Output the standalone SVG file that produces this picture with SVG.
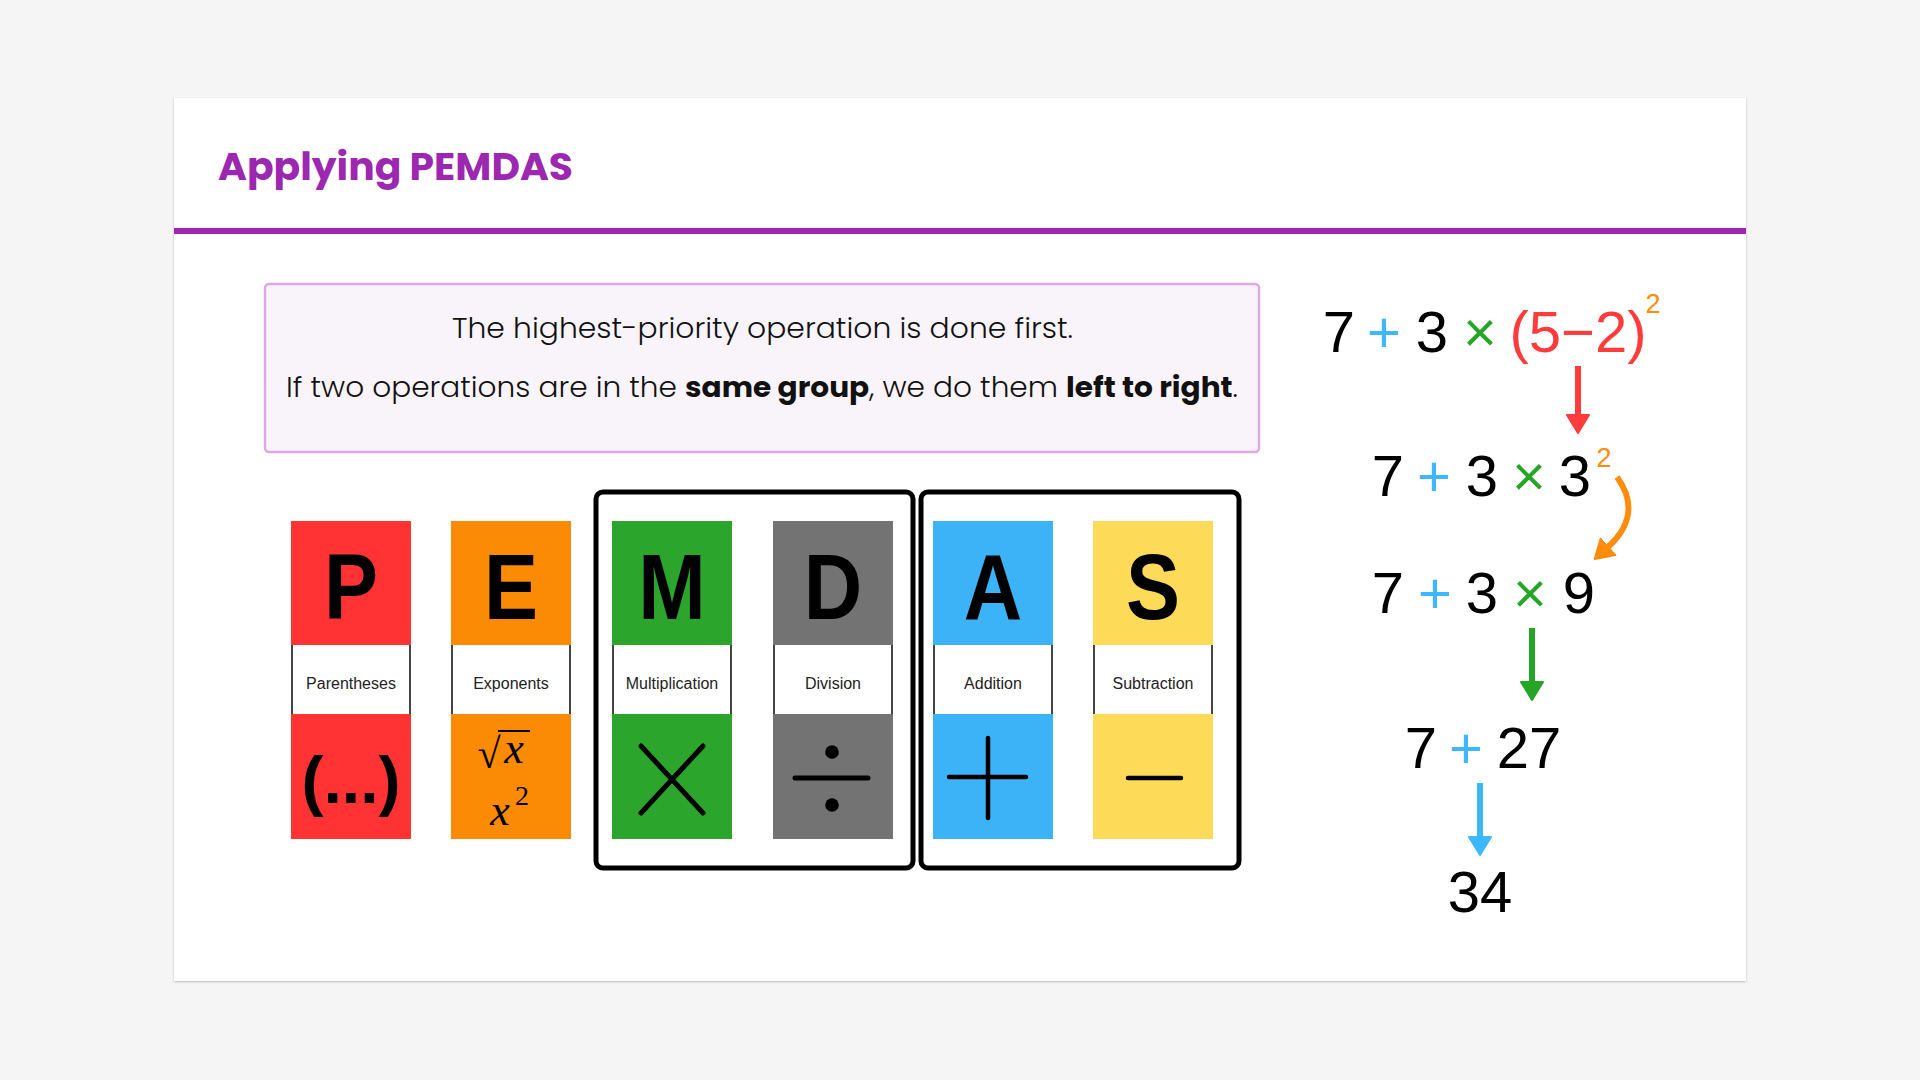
<svg xmlns="http://www.w3.org/2000/svg" width="1920" height="1080" viewBox="0 0 1920 1080">
  <defs>
    <filter id="shadow" x="-5%" y="-5%" width="110%" height="110%">
      <feDropShadow dx="0" dy="1" stdDeviation="1.2" flood-color="#000" flood-opacity="0.25"/>
    </filter>
    <marker id="hRed" viewBox="0 0 20 26" markerUnits="userSpaceOnUse" markerWidth="20" markerHeight="26" refX="1" refY="13" orient="auto">
      <path d="M1,2 L19,13 L1,24 Z" fill="#FF3B3B" stroke="#FF3B3B" stroke-width="2" stroke-linejoin="round"/>
    </marker>
    <marker id="hGreen" viewBox="0 0 20 26" markerUnits="userSpaceOnUse" markerWidth="20" markerHeight="26" refX="1" refY="13" orient="auto">
      <path d="M1,2 L19,13 L1,24 Z" fill="#26A626" stroke="#26A626" stroke-width="2" stroke-linejoin="round"/>
    </marker>
    <marker id="hBlue" viewBox="0 0 20 26" markerUnits="userSpaceOnUse" markerWidth="20" markerHeight="26" refX="1" refY="13" orient="auto">
      <path d="M1,2 L19,13 L1,24 Z" fill="#3DB8FF" stroke="#3DB8FF" stroke-width="2" stroke-linejoin="round"/>
    </marker>
    <marker id="hOrange" viewBox="0 0 20 26" markerUnits="userSpaceOnUse" markerWidth="20" markerHeight="26" refX="1" refY="13" orient="auto">
      <path d="M1,2 L19,13 L1,24 Z" fill="#FF8C0A" stroke="#FF8C0A" stroke-width="2" stroke-linejoin="round"/>
    </marker>
  </defs>
  <style>
    .title { font-family: Poppins, "Liberation Sans", Arial, sans-serif; font-weight: 700; font-size: 38px; fill: #9C27B0; }
    .rule { font-family: Poppins, Lato, "Open Sans", "Liberation Sans", sans-serif; font-weight: 300; font-size: 28px; fill: #111; }
    .b { font-weight: 700; }
    .big { font-family: "Liberation Sans", Arial, sans-serif; font-weight: 700; font-size: 92px; fill: #000; text-anchor: middle; }
    .lbl { font-family: "Liberation Sans", Arial, sans-serif; font-size: 16px; fill: #222; text-anchor: middle; }
    .band { fill: #fff; stroke: none; }
    .bandedge { stroke: #444; stroke-width: 2; }
    .grp { fill: none; stroke: #000; stroke-width: 5; }
    .sym { stroke: #000; stroke-linecap: round; fill: none; }
    .math { font-family: "Liberation Serif", "Times New Roman", serif; font-style: italic; fill: #000; text-anchor: middle; }
    .eq { font-family: "Liberation Sans", Arial, sans-serif; font-size: 58px; fill: #000; text-anchor: middle; }
    .sup { font-family: "Liberation Sans", Arial, sans-serif; font-size: 27px; fill: #FF8C0A; text-anchor: middle; }
    .blue { fill: #3DB8FF; }
    .green { fill: #26A626; }
    .red { fill: #FF3B3B; }
    .arrow { fill: none; stroke-width: 6; }
  </style>

  <rect width="1920" height="1080" fill="#F5F5F5"/>
  <rect x="174" y="98" width="1572" height="883" fill="#FFFFFF" filter="url(#shadow)"/>

  <g id="header">
    <text class="title" x="218" y="180" textLength="355" lengthAdjust="spacingAndGlyphs">Applying PEMDAS</text>
    <rect x="174" y="228" width="1572" height="6" fill="#9C27B0"/>
  </g>

  <g id="rule-box">
    <rect x="265" y="284" width="994" height="168" rx="4" fill="#F9F4FA" stroke="#DDA8E3" stroke-width="2.5"/>
    <text class="rule" x="452" y="338" textLength="621" lengthAdjust="spacingAndGlyphs">The highest-priority operation is done first.</text>
    <text class="rule" x="286" y="397" textLength="952" lengthAdjust="spacingAndGlyphs">If two operations are in the <tspan class="b">same group</tspan>, we do them <tspan class="b">left to right</tspan>.</text>
  </g>

  <g id="group-md">
    <rect class="grp" x="596" y="492" width="317" height="376" rx="7"/>
  </g>
  <g id="group-as">
    <rect class="grp" x="921" y="492" width="318" height="376" rx="7"/>
  </g>

  <g id="tile-P">
    <rect x="291" y="521" width="120" height="318" fill="#FF3333"/>
    <rect class="band" x="291" y="645" width="120" height="69"/>
    <line class="bandedge" x1="292" y1="645" x2="292" y2="714"/>
    <line class="bandedge" x1="410" y1="645" x2="410" y2="714"/>
    <text class="big" transform="translate(351 619) scale(0.88 1)">P</text>
    <text class="lbl" x="351" y="689">Parentheses</text>
    <text x="351" y="803" font-family="Liberation Sans, Arial, sans-serif" font-weight="700" font-size="66" text-anchor="middle" fill="#000">(...)</text>
  </g>

  <g id="tile-E">
    <rect x="451" y="521" width="120" height="318" fill="#FB8A04"/>
    <rect class="band" x="451" y="645" width="120" height="69"/>
    <line class="bandedge" x1="452" y1="645" x2="452" y2="714"/>
    <line class="bandedge" x1="570" y1="645" x2="570" y2="714"/>
    <text class="big" transform="translate(511 619) scale(0.88 1)">E</text>
    <text class="lbl" x="511" y="689">Exponents</text>
    <text x="489" y="768" font-family="Liberation Serif, Times New Roman, serif" font-size="42" text-anchor="middle" fill="#000">√</text>
    <line x1="498" y1="731" x2="530" y2="731" stroke="#000" stroke-width="2"/>
    <text class="math" x="514" y="763" font-size="44">x</text>
    <text class="math" x="500" y="825" font-size="44">x</text>
    <text x="522" y="805" font-family="Liberation Serif, Times New Roman, serif" font-size="28" text-anchor="middle" fill="#000">2</text>
  </g>

  <g id="tile-M">
    <rect x="612" y="521" width="120" height="318" fill="#2CA52C"/>
    <rect class="band" x="612" y="645" width="120" height="69"/>
    <line class="bandedge" x1="613" y1="645" x2="613" y2="714"/>
    <line class="bandedge" x1="731" y1="645" x2="731" y2="714"/>
    <text class="big" transform="translate(672 619) scale(0.88 1)">M</text>
    <text class="lbl" x="672" y="689">Multiplication</text>
    <line class="sym" x1="641" y1="746" x2="703" y2="813" stroke-width="5"/>
    <line class="sym" x1="703" y1="746" x2="641" y2="813" stroke-width="5"/>
  </g>

  <g id="tile-D">
    <rect x="773" y="521" width="120" height="318" fill="#737373"/>
    <rect class="band" x="773" y="645" width="120" height="69"/>
    <line class="bandedge" x1="774" y1="645" x2="774" y2="714"/>
    <line class="bandedge" x1="892" y1="645" x2="892" y2="714"/>
    <text class="big" transform="translate(833 619) scale(0.88 1)">D</text>
    <text class="lbl" x="833" y="689">Division</text>
    <circle cx="832" cy="752" r="6.8" fill="#000"/>
    <circle cx="832" cy="805" r="6.8" fill="#000"/>
    <line class="sym" x1="795" y1="778" x2="868" y2="778" stroke-width="5"/>
  </g>

  <g id="tile-A">
    <rect x="933" y="521" width="120" height="318" fill="#3DB3F7"/>
    <rect class="band" x="933" y="645" width="120" height="69"/>
    <line class="bandedge" x1="934" y1="645" x2="934" y2="714"/>
    <line class="bandedge" x1="1052" y1="645" x2="1052" y2="714"/>
    <text class="big" transform="translate(993 619) scale(0.88 1)">A</text>
    <text class="lbl" x="993" y="689">Addition</text>
    <line class="sym" x1="949" y1="777" x2="1026" y2="777" stroke-width="4.5"/>
    <line class="sym" x1="988" y1="738" x2="988" y2="818" stroke-width="4.5"/>
  </g>

  <g id="tile-S">
    <rect x="1093" y="521" width="120" height="318" fill="#FDDB59"/>
    <rect class="band" x="1093" y="645" width="120" height="69"/>
    <line class="bandedge" x1="1094" y1="645" x2="1094" y2="714"/>
    <line class="bandedge" x1="1212" y1="645" x2="1212" y2="714"/>
    <text class="big" transform="translate(1153 619) scale(0.88 1)">S</text>
    <text class="lbl" x="1153" y="689">Subtraction</text>
    <line class="sym" x1="1128" y1="778" x2="1181" y2="778" stroke-width="4.5"/>
  </g>

  <g id="step-1">
    <text class="eq" x="1339" y="352">7</text>
    <text class="eq blue" x="1384" y="352">+</text>
    <text class="eq" x="1432" y="352">3</text>
    <text class="eq green" x="1480" y="352">×</text>
    <text class="eq red" x="1578" y="352">(5−2)</text>
    <text class="sup" x="1653" y="313">2</text>
  </g>
  <g id="step-2">
    <text class="eq" x="1388" y="496">7</text>
    <text class="eq blue" x="1434" y="496">+</text>
    <text class="eq" x="1482" y="496">3</text>
    <text class="eq green" x="1529" y="496">×</text>
    <text class="eq" x="1575" y="496">3</text>
    <text class="sup" x="1604" y="467">2</text>
  </g>
  <g id="step-3">
    <text class="eq" x="1388" y="613">7</text>
    <text class="eq blue" x="1435" y="613">+</text>
    <text class="eq" x="1482" y="613">3</text>
    <text class="eq green" x="1530" y="613">×</text>
    <text class="eq" x="1579" y="613">9</text>
  </g>
  <g id="step-4">
    <text class="eq" x="1421" y="768">7</text>
    <text class="eq blue" x="1466" y="768">+</text>
    <text class="eq" x="1529" y="768">27</text>
  </g>
  <g id="step-5">
    <text class="eq" x="1480" y="912">34</text>
  </g>

  <g id="connectors">
    <line class="arrow" x1="1578" y1="366" x2="1578" y2="415" stroke="#FF3B3B" marker-end="url(#hRed)"/>
    <path class="arrow" d="M1617,477 C1636,503 1630,527 1608,547" stroke="#FF8C0A" stroke-width="5" marker-end="url(#hOrange)"/>
    <line class="arrow" x1="1532" y1="628" x2="1532" y2="682" stroke="#26A626" marker-end="url(#hGreen)"/>
    <line class="arrow" x1="1480" y1="783" x2="1480" y2="837" stroke="#3DB8FF" marker-end="url(#hBlue)"/>
  </g>
</svg>
